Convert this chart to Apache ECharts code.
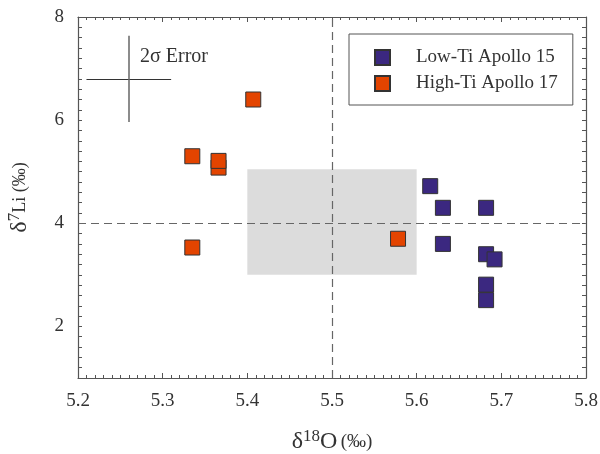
<!DOCTYPE html>
<html>
<head>
<meta charset="utf-8">
<script src="https://cdn.jsdelivr.net/npm/echarts@6/dist/echarts.min.js"></script>
<style>
  html, body { margin: 0; padding: 0; background: #fff; }
  #main { width: 600px; height: 454px; }
</style>
</head>
<body>
<div id="main"></div>
<script>
// 数据
const lowTi15 = [
  [5.616, 4.72], [5.631, 4.30], [5.682, 4.30], [5.631, 3.60],
  [5.682, 3.40], [5.692, 3.30], [5.682, 2.81], [5.682, 2.51]
];
const highTi17 = [
  [5.407, 6.40], [5.335, 5.30], [5.366, 5.08], [5.366, 5.21],
  [5.335, 3.53], [5.578, 3.70]
];
const refBox = [[5.4, 3.0], [5.6, 5.05]];
const refX = 5.5;
const refY = 4;
const errCenter = [5.26, 6.8];
const errX = 0.05;
const errY = 0.835;
const yLabels = [2, 4, 6, 8];

const serif = 'Liberation Serif';
const axisColor = '#555';

const chart = echarts.init(document.getElementById('main'));

function frameAxis(pos, isX) {
  const ax = {
    type: 'value',
    position: pos,
    min: isX ? 5.2 : 1,
    max: isX ? 5.8 : 8,
    interval: isX ? 0.1 : 0.2,
    axisLine: { show: true, onZero: false, lineStyle: { color: axisColor, width: 1.2 } },
    axisTick: { show: true, inside: true, length: isX ? 5 : 4, lineStyle: { color: axisColor } },
    splitLine: { show: false },
    axisLabel: { show: false }
  };
  if (isX) {
    ax.minorTick = { show: true, splitNumber: 10, length: 3, lineStyle: { color: axisColor } };
  }
  return ax;
}

const xMain = frameAxis('bottom', true);
xMain.axisLabel = {
  show: true, color: '#333', fontFamily: serif, fontSize: 19, margin: 14,
  formatter: v => v.toFixed(1)
};
xMain.name = '{d|δ}{s|18}{d|O} {p|(‰)}';
xMain.nameLocation = 'middle';
xMain.nameGap = 50;
xMain.nameTextStyle = {
  rich: {
    d: { fontFamily: serif, fontSize: 24, color: '#333' },
    s: { fontFamily: serif, fontSize: 17, color: '#333', padding: [0, 0, 11, 0] },
    p: { fontFamily: serif, fontSize: 19, color: '#333' }
  }
};
const xTop = frameAxis('top', true);

const yMain = frameAxis('left', false);
yMain.axisLabel = {
  show: true, color: '#333', fontFamily: serif, fontSize: 19, margin: 14,
  customValues: yLabels
};
yMain.name = '{d|δ}{s|7}{p|Li (‰)}';
yMain.nameLocation = 'middle';
yMain.nameGap = 44;
yMain.nameRotate = 90;
yMain.nameTextStyle = {
  rich: {
    d: { fontFamily: serif, fontSize: 24, color: '#333' },
    s: { fontFamily: serif, fontSize: 17, color: '#333', padding: [0, 0, 11, 0] },
    p: { fontFamily: serif, fontSize: 18, color: '#333' }
  }
};
const yRight = frameAxis('right', false);

const option = {
  animation: false,
  backgroundColor: '#fff',
  grid: { left: 78, right: 14, top: 17, bottom: 76, containLabel: false, outerBoundsMode: 'none' },
  xAxis: [xMain, xTop],
  yAxis: [yMain, yRight],
  legend: {
    orient: 'vertical',
    left: 349,
    top: 34,
    padding: [14, 15, 12, 25],
    itemGap: 7,
    itemWidth: 15,
    itemHeight: 15,
    borderColor: '#555',
    borderWidth: 1,
    backgroundColor: '#fff',
    textStyle: { fontFamily: serif, fontSize: 19, color: '#333', padding: [0, 0, 0, 21] },
    data: [
      { name: 'Low-Ti Apollo 15', icon: 'rect' },
      { name: 'High-Ti Apollo 17', icon: 'rect' }
    ]
  },
  graphic: [{
    type: 'text',
    left: 140,
    top: 47,
    style: { text: '2σ Error', fontFamily: serif, fontSize: 20, fill: '#333' }
  }],
  series: [
    {
      // 参考区域 + 虚线
      type: 'line',
      data: [],
      silent: true,
      markArea: {
        silent: true,
        itemStyle: { color: '#dcdcdc', opacity: 1 },
        data: [[{ coord: refBox[0] }, { coord: refBox[1] }]]
      },
      markLine: {
        silent: true,
        symbol: 'none',
        label: { show: false },
        lineStyle: { color: '#666', type: [8, 5], width: 1.2 },
        data: [{ xAxis: refX }, { yAxis: refY }]
      }
    },
    {
      // 2σ 误差
      type: 'line',
      data: [],
      silent: true,
      markLine: {
        silent: true,
        symbol: 'none',
        label: { show: false },
        data: [
          [{ coord: [errCenter[0] - errX, errCenter[1]], lineStyle: { color: '#333', type: 'solid', width: 1.2 } },
           { coord: [errCenter[0] + errX, errCenter[1]] }],
          [{ coord: [errCenter[0], errCenter[1] - errY], lineStyle: { color: '#666', type: 'solid', width: 1.5 } },
           { coord: [errCenter[0], errCenter[1] + errY] }]
        ]
      }
    },
    {
      name: 'Low-Ti Apollo 15',
      type: 'scatter',
      symbol: 'rect',
      symbolSize: 15,
      itemStyle: { color: '#3b2880', borderColor: '#333', borderWidth: 1, opacity: 1 },
      data: lowTi15,
      z: 5
    },
    {
      name: 'High-Ti Apollo 17',
      type: 'scatter',
      symbol: 'rect',
      symbolSize: 15,
      itemStyle: { color: '#e34400', borderColor: '#333', borderWidth: 1, opacity: 1 },
      data: highTi17,
      z: 5
    }
  ]
};

chart.setOption(option);
</script>
</body>
</html>
